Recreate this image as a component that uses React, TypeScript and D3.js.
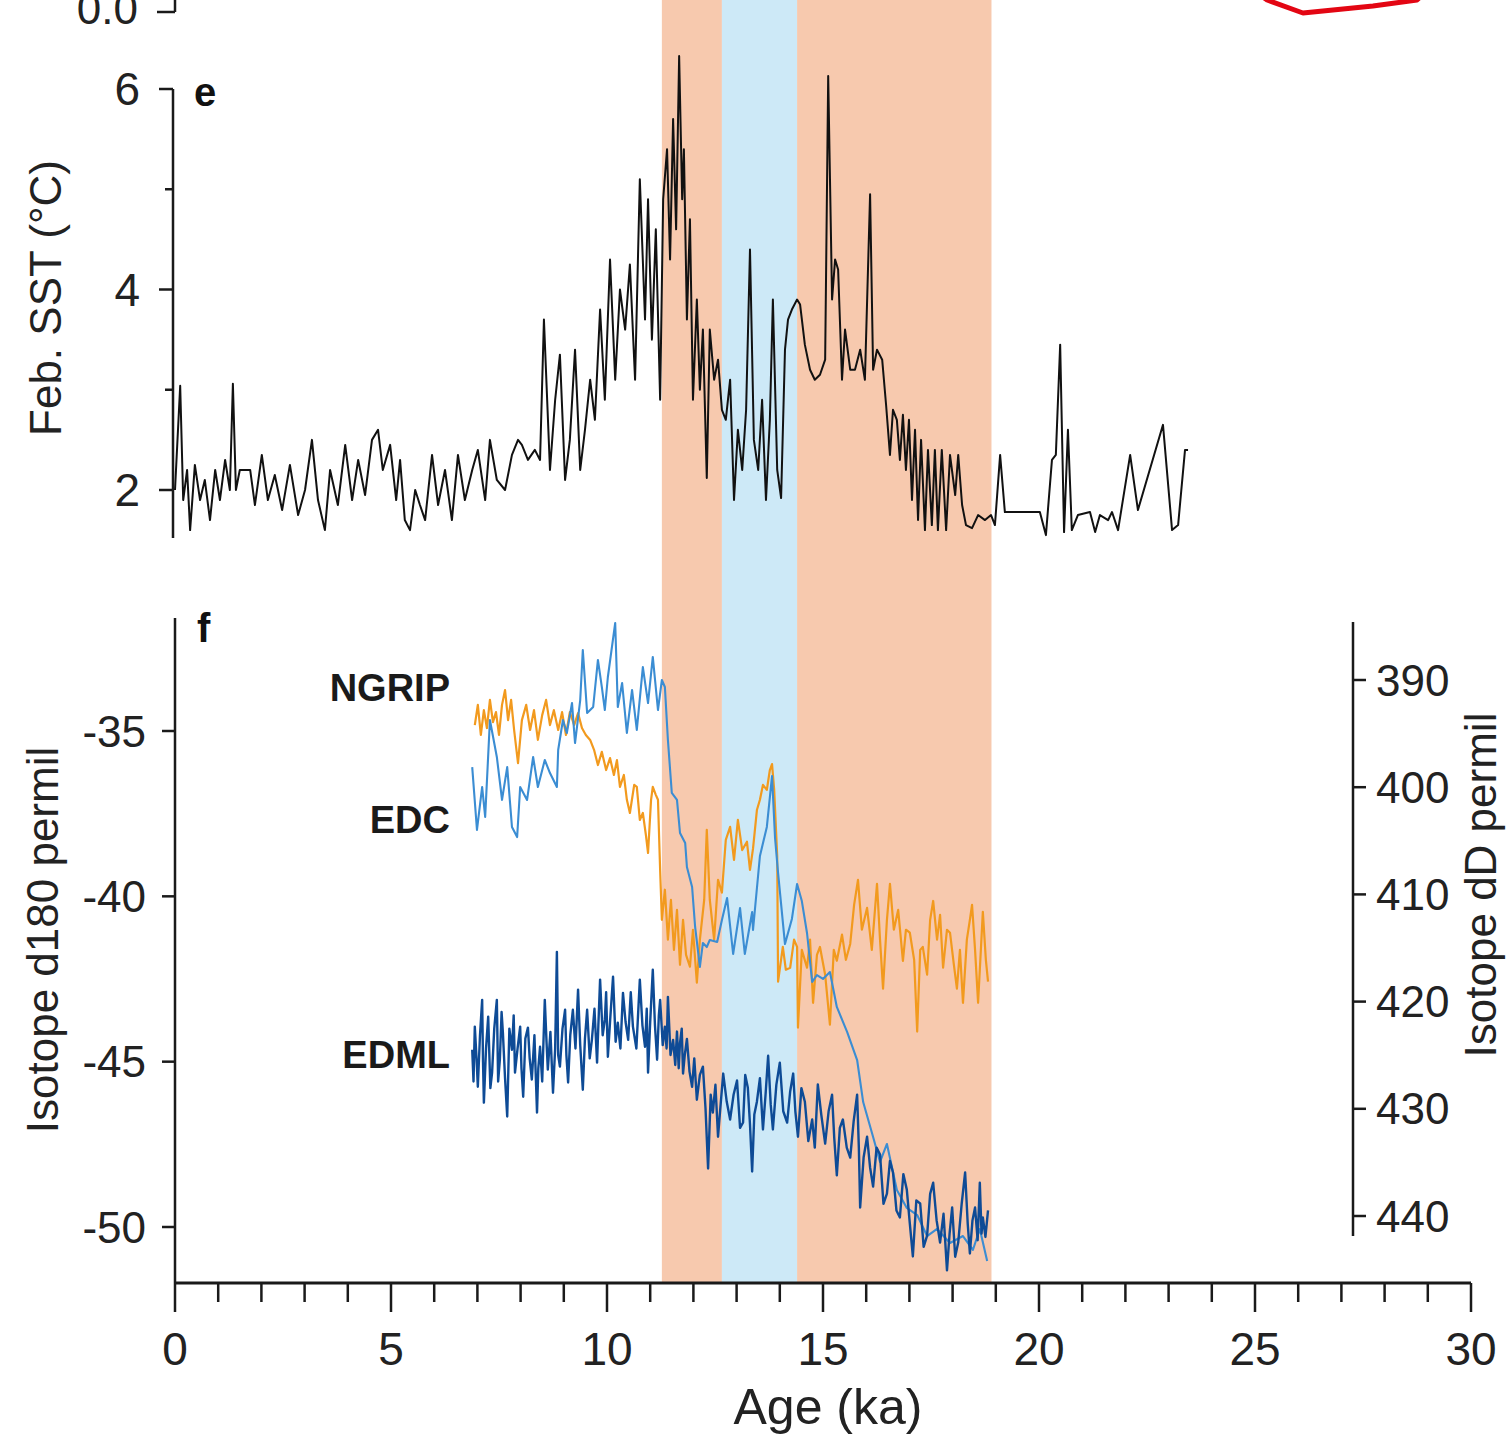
import React from "react";
import * as d3 from "d3";

// ---- Data ----
const xTicksMajor = [0, 5, 10, 15, 20, 25, 30];
const xTicksMinor = d3.range(0, 31, 1);
const sstTicks = [2, 4, 6];
const sstMinor = [3, 5];
const isoTicks = [-35, -40, -45, -50];
const ddTicks = [390, 400, 410, 420, 430, 440];

// shaded periods (ka)
const bands: [number, number, string][] = [
  [11.27, 12.66, "warm"],
  [12.66, 14.4, "cold"],
  [14.4, 18.9, "warm"],
];

// fragment of the panel above (red curve)
const redCurve: [number, number][] = [
  [24.7, 0.3], [25.28, 0.12], [26.11, -0.01], [27.73, 0.06], [28.75, 0.12], [29.2, 0.3],
];

// Feb. SST (°C)
const sst: [number, number][] = [
  [0.0, 2.0], [0.12, 3.04], [0.19, 1.9], [0.28, 2.2], [0.35, 1.6], [0.46, 2.25], [0.58, 1.9], [0.69, 2.1],
  [0.81, 1.7], [0.93, 2.2], [1.04, 1.9], [1.16, 2.3], [1.27, 2.0], [1.34, 3.06], [1.41, 2.0], [1.5, 2.2],
  [1.74, 2.2], [1.85, 1.85], [2.01, 2.35], [2.15, 1.9], [2.31, 2.15], [2.48, 1.8], [2.66, 2.25], [2.85, 1.75],
  [3.01, 2.0], [3.17, 2.5], [3.31, 1.9], [3.47, 1.6], [3.59, 2.2], [3.77, 1.85], [3.94, 2.45], [4.1, 1.9],
  [4.24, 2.3], [4.4, 1.95], [4.56, 2.5], [4.7, 2.6], [4.81, 2.2], [4.98, 2.45], [5.12, 1.9], [5.21, 2.3],
  [5.32, 1.7], [5.44, 1.6], [5.56, 2.0], [5.67, 1.85], [5.79, 1.7], [5.95, 2.35], [6.09, 1.85], [6.25, 2.2],
  [6.41, 1.7], [6.55, 2.35], [6.71, 1.9], [6.88, 2.2], [7.01, 2.4], [7.18, 1.9], [7.29, 2.5], [7.45, 2.1],
  [7.64, 2.0], [7.8, 2.35], [7.94, 2.5], [8.03, 2.45], [8.17, 2.3], [8.33, 2.4], [8.45, 2.3], [8.54, 3.7],
  [8.68, 2.2], [8.8, 2.9], [8.91, 3.35], [9.03, 2.1], [9.14, 2.5], [9.26, 3.4], [9.38, 2.2], [9.49, 2.6],
  [9.61, 3.1], [9.72, 2.7], [9.84, 3.8], [9.95, 2.9], [10.07, 4.3], [10.19, 3.1], [10.3, 4.0], [10.42, 3.6],
  [10.53, 4.25], [10.65, 3.1], [10.76, 5.1], [10.88, 3.7], [10.95, 4.9], [11.04, 3.5], [11.13, 4.6], [11.23, 2.9],
  [11.3, 4.9], [11.39, 5.4], [11.46, 4.3], [11.53, 5.7], [11.6, 4.6], [11.67, 6.33], [11.74, 4.9], [11.78, 5.4],
  [11.85, 3.7], [11.92, 4.7], [11.99, 2.9], [12.08, 3.9], [12.15, 3.0], [12.22, 3.6], [12.31, 2.12], [12.38, 3.6],
  [12.48, 3.1], [12.57, 3.3], [12.66, 2.8], [12.75, 2.7], [12.85, 3.1], [12.94, 1.9], [13.03, 2.6], [13.13, 2.2],
  [13.22, 2.8], [13.31, 4.4], [13.4, 2.5], [13.5, 2.2], [13.59, 2.9], [13.68, 1.9], [13.77, 2.7], [13.84, 3.9],
  [13.94, 2.2], [14.03, 1.92], [14.12, 3.4], [14.19, 3.7], [14.28, 3.8], [14.4, 3.9], [14.47, 3.85], [14.58, 3.45],
  [14.7, 3.2], [14.81, 3.1], [14.93, 3.15], [15.05, 3.3], [15.12, 6.13], [15.21, 3.9], [15.28, 4.3], [15.35, 4.2],
  [15.44, 3.1], [15.51, 3.6], [15.63, 3.2], [15.74, 3.2], [15.86, 3.4], [15.97, 3.1], [16.09, 4.95], [16.16, 3.2],
  [16.25, 3.4], [16.37, 3.3], [16.46, 2.85], [16.55, 2.35], [16.62, 2.8], [16.71, 2.7], [16.78, 2.3], [16.85, 2.75],
  [16.92, 2.2], [16.99, 2.7], [17.06, 1.9], [17.13, 2.6], [17.2, 1.7], [17.27, 2.5], [17.36, 1.6], [17.43, 2.4],
  [17.52, 1.65], [17.59, 2.4], [17.66, 1.6], [17.75, 2.4], [17.85, 1.6], [17.94, 2.35], [18.06, 1.95], [18.13, 2.35],
  [18.22, 1.85], [18.31, 1.65], [18.45, 1.62], [18.59, 1.75], [18.75, 1.7], [18.89, 1.75], [18.98, 1.65], [19.1, 2.35],
  [19.21, 1.78], [20.02, 1.78], [20.16, 1.55], [20.3, 2.3], [20.39, 2.35], [20.49, 3.45], [20.58, 1.58], [20.67, 2.6],
  [20.76, 1.6], [20.9, 1.75], [21.18, 1.78], [21.3, 1.58], [21.41, 1.75], [21.6, 1.7], [21.69, 1.78], [21.83, 1.6],
  [22.11, 2.35], [22.29, 1.8], [22.87, 2.65], [23.08, 1.6], [23.22, 1.65], [23.38, 2.4], [23.45, 2.4],
];

// NGRIP d18O (permil)
const ngrip: [number, number][] = [
  [6.94, -34.82], [7.01, -34.21], [7.08, -35.12], [7.15, -34.37], [7.22, -34.91], [7.29, -34.06], [7.36, -34.73],
  [7.43, -34.43], [7.5, -35.12], [7.57, -34.21], [7.64, -33.76], [7.71, -34.67], [7.78, -34.06], [7.85, -34.97],
  [7.94, -35.97], [8.03, -34.67], [8.13, -34.21], [8.22, -34.97], [8.31, -34.37], [8.4, -35.27], [8.5, -34.52],
  [8.59, -34.06], [8.68, -34.82], [8.77, -34.37], [8.87, -34.97], [8.96, -34.43], [9.05, -35.12], [9.14, -34.43],
  [9.24, -34.82], [9.33, -34.46], [9.42, -34.91], [9.51, -35.12], [9.61, -35.27], [9.7, -35.57], [9.79, -36.03],
  [9.88, -35.63], [9.98, -36.18], [10.07, -35.82], [10.16, -36.33], [10.23, -35.88], [10.3, -36.69], [10.39, -36.33],
  [10.46, -37.08], [10.53, -37.48], [10.63, -36.63], [10.69, -36.69], [10.76, -37.69], [10.83, -37.48], [10.9, -38.14],
  [10.95, -38.69], [11.02, -37.08], [11.06, -36.69], [11.13, -36.93], [11.18, -37.08], [11.23, -39.2], [11.27, -40.71],
  [11.34, -39.8], [11.41, -41.31], [11.48, -40.11], [11.55, -41.62], [11.62, -40.41], [11.69, -42.07], [11.76, -40.71],
  [11.83, -41.77], [11.92, -42.13], [11.99, -41.01], [12.08, -42.61], [12.15, -41.31], [12.25, -40.11], [12.31, -37.99],
  [12.38, -40.11], [12.48, -41.31], [12.57, -39.5], [12.66, -39.89], [12.75, -38.29], [12.85, -37.9], [12.94, -38.9],
  [13.03, -37.69], [13.13, -38.6], [13.24, -38.35], [13.31, -39.2], [13.38, -38.56], [13.47, -37.39], [13.54, -37.08],
  [13.61, -36.63], [13.7, -36.78], [13.77, -36.18], [13.82, -36.0], [13.87, -36.78], [13.94, -38.78], [13.96, -42.58],
  [14.07, -41.53], [14.14, -42.22], [14.24, -42.16], [14.33, -41.31], [14.4, -41.53], [14.42, -43.97], [14.51, -41.62],
  [14.63, -42.16], [14.7, -41.31], [14.77, -43.22], [14.86, -41.77], [14.93, -41.53], [15.05, -42.37], [15.16, -43.88],
  [15.25, -41.62], [15.32, -41.95], [15.44, -41.16], [15.53, -41.92], [15.63, -41.44], [15.72, -40.26], [15.81, -39.5],
  [15.9, -41.01], [16.02, -40.35], [16.13, -41.62], [16.25, -39.62], [16.32, -41.31], [16.39, -42.79], [16.48, -40.71],
  [16.55, -39.62], [16.64, -41.01], [16.74, -40.41], [16.85, -41.95], [16.92, -41.01], [17.01, -41.1], [17.11, -41.92],
  [17.18, -44.09], [17.25, -41.62], [17.31, -41.53], [17.41, -42.37], [17.48, -40.71], [17.55, -40.14], [17.64, -41.31],
  [17.71, -40.56], [17.78, -42.16], [17.87, -41.01], [17.94, -41.1], [18.03, -42.07], [18.1, -42.79], [18.17, -41.62],
  [18.24, -43.22], [18.33, -41.31], [18.4, -40.71], [18.45, -40.26], [18.52, -41.62], [18.59, -43.22], [18.66, -41.47],
  [18.7, -40.47], [18.77, -41.92], [18.82, -42.58],
];

// EDC dD (permil, right axis)
const edc: [number, number][] = [
  [6.88, 398.12], [6.99, 403.99], [7.11, 399.98], [7.18, 402.78], [7.29, 393.73], [7.45, 397.18], [7.57, 401.19],
  [7.69, 398.12], [7.8, 403.71], [7.92, 404.65], [7.99, 399.98], [8.15, 401.19], [8.29, 397.18], [8.4, 399.98],
  [8.56, 397.46], [8.68, 398.68], [8.84, 399.98], [8.87, 396.53], [8.98, 393.73], [9.07, 394.94], [9.19, 392.15],
  [9.26, 395.88], [9.38, 391.87], [9.44, 387.2], [9.54, 393.08], [9.68, 392.52], [9.79, 388.13], [9.88, 390.65],
  [9.95, 392.8], [10.02, 389.72], [10.19, 384.68], [10.25, 392.52], [10.35, 390.28], [10.46, 394.94], [10.58, 390.93],
  [10.69, 394.66], [10.83, 388.79], [10.95, 392.15], [11.06, 387.85], [11.18, 392.8], [11.27, 390.0], [11.34, 390.65],
  [11.41, 395.6], [11.5, 400.54], [11.62, 401.19], [11.69, 404.27], [11.81, 405.21], [11.85, 407.44], [11.97, 409.31],
  [12.04, 413.04], [12.15, 416.77], [12.22, 414.53], [12.31, 414.91], [12.38, 414.25], [12.55, 414.44], [12.66, 412.39],
  [12.78, 410.34], [12.92, 415.56], [13.08, 411.27], [13.19, 415.56], [13.36, 411.64], [13.38, 413.32], [13.54, 406.42],
  [13.7, 403.71], [13.82, 398.96], [13.89, 404.74], [13.96, 408.0], [14.12, 414.63], [14.28, 412.29], [14.4, 409.03],
  [14.51, 410.62], [14.63, 413.6], [14.75, 418.17], [14.86, 417.52], [15.0, 417.89], [15.16, 417.24], [15.32, 420.5],
  [15.56, 422.84], [15.79, 425.45], [15.93, 429.37], [16.16, 432.63], [16.32, 434.96], [16.48, 433.28], [16.71, 437.57],
  [16.94, 439.25], [17.18, 439.91], [17.41, 441.87], [17.64, 441.21], [17.94, 442.52], [18.24, 441.87], [18.47, 443.17],
  [18.63, 441.21], [18.8, 444.2],
];

// EDML d18O (permil)
const edml: [number, number][] = [
  [6.88, -44.64], [6.91, -45.6], [6.94, -43.94], [6.98, -44.9], [7.01, -45.76], [7.06, -44.2], [7.11, -43.13],
  [7.13, -45.0], [7.15, -46.24], [7.2, -44.6], [7.25, -43.64], [7.3, -45.8], [7.34, -45.33], [7.39, -44.0],
  [7.45, -43.13], [7.48, -45.6], [7.52, -44.94], [7.56, -43.5], [7.59, -44.12], [7.64, -45.5], [7.69, -46.66],
  [7.74, -44.0], [7.8, -44.64], [7.84, -43.6], [7.87, -45.33], [7.93, -44.6], [7.99, -43.94], [8.02, -45.2],
  [8.06, -46.06], [8.11, -44.3], [8.17, -43.97], [8.21, -44.9], [8.26, -45.54], [8.32, -44.2], [8.38, -46.54],
  [8.41, -45.2], [8.45, -44.55], [8.5, -45.6], [8.56, -43.13], [8.6, -44.4], [8.63, -45.24], [8.69, -44.1],
  [8.75, -45.94], [8.8, -44.6], [8.84, -41.68], [8.87, -44.8], [8.91, -45.15], [8.97, -44.0], [9.03, -43.43],
  [9.06, -44.8], [9.1, -45.63], [9.15, -44.2], [9.21, -43.43], [9.27, -44.6], [9.33, -42.82], [9.38, -44.5],
  [9.44, -45.85], [9.49, -44.3], [9.54, -43.43], [9.6, -44.9], [9.65, -44.34], [9.71, -43.4], [9.77, -45.03],
  [9.8, -43.9], [9.84, -42.52], [9.9, -44.2], [9.95, -43.73], [9.98, -42.9], [10.02, -44.85], [10.08, -43.6],
  [10.14, -42.43], [10.2, -44.4], [10.25, -43.82], [10.31, -44.6], [10.37, -42.92], [10.43, -43.8], [10.49, -44.34],
  [10.55, -42.9], [10.6, -43.94], [10.68, -44.6], [10.76, -42.52], [10.82, -43.9], [10.88, -44.55], [10.92, -43.4],
  [10.95, -45.33], [11.0, -43.8], [11.06, -42.22], [11.11, -43.9], [11.16, -44.94], [11.2, -43.6], [11.23, -43.13],
  [11.29, -44.5], [11.34, -43.94], [11.38, -44.6], [11.41, -43.04], [11.47, -44.8], [11.53, -44.34], [11.58, -45.1],
  [11.62, -44.09], [11.66, -45.2], [11.69, -44.43], [11.73, -44.0], [11.76, -45.36], [11.8, -44.8], [11.85, -44.31],
  [11.91, -45.3], [11.97, -45.76], [12.02, -44.9], [12.08, -46.15], [12.15, -45.4], [12.22, -45.15], [12.28, -46.4],
  [12.34, -48.23], [12.4, -46.0], [12.45, -46.54], [12.51, -45.7], [12.57, -47.27], [12.63, -46.3], [12.69, -45.36],
  [12.77, -46.2], [12.85, -46.75], [12.93, -46.0], [13.01, -45.57], [13.08, -47.0], [13.15, -46.84], [13.2, -45.4],
  [13.26, -45.79], [13.31, -46.9], [13.36, -48.32], [13.41, -46.6], [13.47, -46.21], [13.54, -45.5], [13.61, -47.05],
  [13.67, -46.0], [13.73, -44.82], [13.79, -46.3], [13.84, -47.05], [13.92, -45.7], [14.0, -45.03], [14.08, -46.5],
  [14.17, -46.84], [14.24, -45.9], [14.31, -45.36], [14.36, -46.5], [14.42, -47.27], [14.5, -45.8], [14.58, -46.21],
  [14.66, -47.4], [14.75, -46.75], [14.81, -47.6], [14.88, -45.69], [14.96, -46.6], [15.05, -47.48], [15.13, -46.5],
  [15.21, -46.0], [15.26, -47.3], [15.32, -48.44], [15.39, -47.0], [15.46, -46.75], [15.55, -47.6], [15.63, -47.9],
  [15.71, -46.8], [15.79, -46.0], [15.83, -47.6], [15.86, -49.41], [15.94, -47.9], [16.02, -47.27], [16.09, -48.2],
  [16.16, -48.78], [16.24, -47.6], [16.32, -47.81], [16.4, -49.3], [16.48, -48.99], [16.55, -48.0], [16.62, -48.35],
  [16.7, -49.5], [16.78, -49.71], [16.86, -48.4], [16.94, -48.87], [17.01, -49.9], [17.08, -50.89], [17.16, -49.2],
  [17.25, -49.29], [17.33, -50.6], [17.41, -50.26], [17.48, -49.0], [17.55, -48.66], [17.63, -49.8], [17.71, -50.47],
  [17.79, -49.6], [17.87, -51.31], [17.93, -50.2], [17.99, -49.41], [18.06, -50.9], [18.13, -50.47], [18.21, -49.3],
  [18.29, -48.35], [18.35, -49.9], [18.4, -50.8], [18.46, -49.8], [18.52, -49.41], [18.58, -50.4], [18.63, -48.66],
  [18.67, -50.2], [18.7, -49.71], [18.76, -50.3], [18.82, -49.5],
];

const seriesLabels = [
  { name: "NGRIP", value: -33.7 },
  { name: "EDC", value: -37.7 },
  { name: "EDML", value: -44.8 },
];

// ---- Scales ----
const W = 1509;
const H = 1436;
const x = d3.scaleLinear().domain([0, 30]).range([175, 1471]);
const ySST = d3.scaleLinear().domain([2, 6]).range([490, 89]);
const yIso = d3.scaleLinear().domain([-35, -50]).range([731, 1227]);
const yDD = d3.scaleLinear().domain([390, 440]).range([680, 1216]);
const yTop = d3.scaleLinear().domain([0, 1]).range([12, -88]);

const FONT = "Liberation Sans, Arial, Helvetica, sans-serif";
const AX = "#1a1a1a";

export default function App() {
  const lineSST = d3.line<[number, number]>().x((d) => x(d[0])).y((d) => ySST(d[1]));
  const lineIso = d3.line<[number, number]>().x((d) => x(d[0])).y((d) => yIso(d[1]));
  const lineDD = d3.line<[number, number]>().x((d) => x(d[0])).y((d) => yDD(d[1]));
  const lineTop = d3.line<[number, number]>().x((d) => x(d[0])).y((d) => yTop(d[1]));

  const xAxisY = 1283;

  return (
    <svg
      width={W}
      height={H}
      style={{ position: "absolute", left: 0, top: 0, background: "#fff" }}
      fontFamily={FONT}
    >
      {/* shaded bands */}
      {bands.map(([a, b, k], i) => (
        <rect
          key={i}
          x={x(a)}
          y={0}
          width={x(b) - x(a)}
          height={xAxisY}
          fill={k === "warm" ? "#F7C9AE" : "#CDE9F7"}
        />
      ))}

      {/* top fragment of panel above */}
      <line x1={x(0)} x2={x(0)} y1={0} y2={yTop(0)} stroke={AX} strokeWidth={2.5} />
      <line x1={157} x2={x(0)} y1={yTop(0)} y2={yTop(0)} stroke={AX} strokeWidth={2.5} />
      <text x={138} y={24} fontSize={44} textAnchor="end" fill="#222">0.0</text>
      <path d={lineTop(redCurve) || ""} fill="none" stroke="#E30613" strokeWidth={5} strokeLinejoin="round" />

      {/* ---- Panel e ---- */}
      <line x1={173} x2={173} y1={ySST(6)} y2={538} stroke={AX} strokeWidth={2.5} />
      {sstTicks.map((t) => (
        <g key={t}>
          <line x1={159} x2={173} y1={ySST(t)} y2={ySST(t)} stroke={AX} strokeWidth={2.5} />
          <text x={140} y={ySST(t)} fontSize={46} textAnchor="end" dominantBaseline="central" fill="#222">
            {t}
          </text>
        </g>
      ))}
      {sstMinor.map((t) => (
        <line key={t} x1={165} x2={173} y1={ySST(t)} y2={ySST(t)} stroke={AX} strokeWidth={2.5} />
      ))}
      <text x={194} y={92} fontSize={40} fontWeight="bold" dominantBaseline="central" fill="#111">e</text>
      <text
        transform={`translate(45,298) rotate(-90)`}
        fontSize={44}
        textAnchor="middle"
        dominantBaseline="central"
        fill="#222"
      >
        Feb. SST (°C)
      </text>
      <path d={lineSST(sst) || ""} fill="none" stroke="#111" strokeWidth={2} strokeLinejoin="round" />

      {/* ---- Panel f ---- */}
      <path d={lineIso(ngrip) || ""} fill="none" stroke="#F29A1E" strokeWidth={2.2} strokeLinejoin="round" />
      <path d={lineDD(edc) || ""} fill="none" stroke="#3B8DD3" strokeWidth={2.1} strokeLinejoin="round" />
      <path d={lineIso(edml) || ""} fill="none" stroke="#0E4B96" strokeWidth={2.4} strokeLinejoin="round" />

      {/* left axis */}
      <line x1={175} x2={175} y1={618} y2={xAxisY} stroke={AX} strokeWidth={2.5} />
      {isoTicks.map((t) => (
        <g key={t}>
          <line x1={162} x2={175} y1={yIso(t)} y2={yIso(t)} stroke={AX} strokeWidth={2.5} />
          <text x={146} y={yIso(t)} fontSize={44} textAnchor="end" dominantBaseline="central" fill="#222">
            {t}
          </text>
        </g>
      ))}
      <text x={197} y={628} fontSize={40} fontWeight="bold" dominantBaseline="central" fill="#111">f</text>
      <text
        transform={`translate(42,940) rotate(-90)`}
        fontSize={44}
        textAnchor="middle"
        dominantBaseline="central"
        fill="#222"
      >
        Isotope d180 permil
      </text>

      {/* right axis */}
      <line x1={1353} x2={1353} y1={622} y2={1236} stroke={AX} strokeWidth={2.5} />
      {ddTicks.map((t) => (
        <g key={t}>
          <line x1={1353} x2={1366} y1={yDD(t)} y2={yDD(t)} stroke={AX} strokeWidth={2.5} />
          <text x={1376} y={yDD(t)} fontSize={44} textAnchor="start" dominantBaseline="central" fill="#222">
            {t}
          </text>
        </g>
      ))}
      <text
        transform={`translate(1480,885) rotate(-90)`}
        fontSize={44}
        textAnchor="middle"
        dominantBaseline="central"
        fill="#222"
      >
        Isotope dD permil
      </text>

      {/* series labels */}
      {seriesLabels.map((s) => (
        <text
          key={s.name}
          x={450}
          y={yIso(s.value)}
          fontSize={38}
          fontWeight="bold"
          textAnchor="end"
          dominantBaseline="central"
          fill="#1a1a1a"
        >
          {s.name}
        </text>
      ))}

      {/* x axis */}
      <line x1={x(0)} x2={x(30)} y1={xAxisY} y2={xAxisY} stroke={AX} strokeWidth={3} />
      {xTicksMinor.map((t) => (
        <line
          key={t}
          x1={x(t)}
          x2={x(t)}
          y1={xAxisY}
          y2={xAxisY + (t % 5 === 0 ? 29 : 19)}
          stroke={AX}
          strokeWidth={2.5}
        />
      ))}
      {xTicksMajor.map((t) => (
        <text key={t} x={x(t)} y={1349} fontSize={46} textAnchor="middle" dominantBaseline="central" fill="#222">
          {t}
        </text>
      ))}
      <text x={x(15) + 5} y={1407} fontSize={50} textAnchor="middle" dominantBaseline="central" fill="#222">
        Age (ka)
      </text>
    </svg>
  );
}
